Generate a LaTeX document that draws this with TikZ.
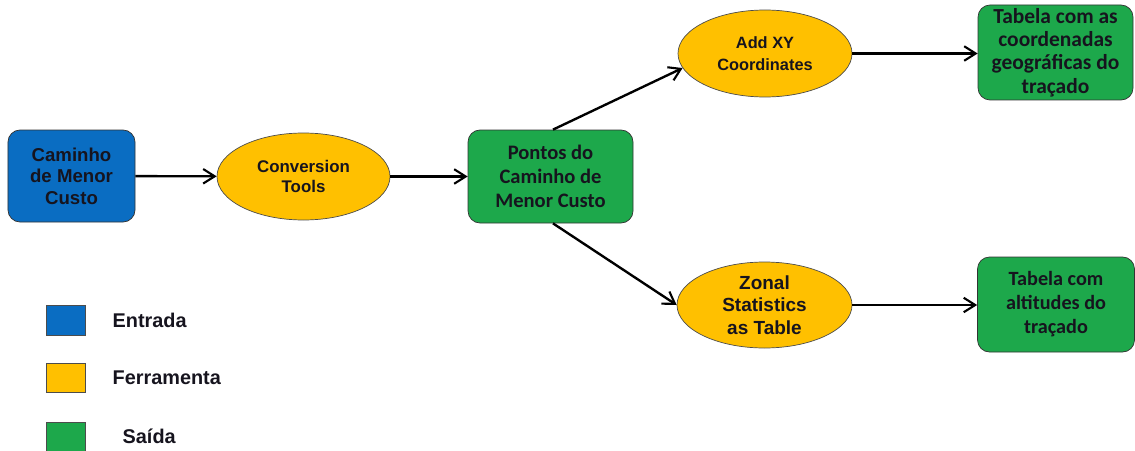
\documentclass[tikz,border=0pt]{standalone}
\usepackage{fontspec}
\setmainfont{Liberation Sans}
\newfontfamily\calib{Carlito}
\usetikzlibrary{arrows.meta,shapes.geometric}
\definecolor{azul}{HTML}{0A6DC2}
\definecolor{amarelo}{HTML}{FFC000}
\definecolor{verde}{HTML}{1DA84B}
\definecolor{texto}{HTML}{16141E}
\tikzset{
  caixa/.style={draw=black!80, rounded corners=0.24cm, align=center, text=texto,
    inner sep=0pt, font=\bfseries\fontsize{10.6}{12.3}\selectfont},
  elipse/.style={ellipse, draw=black!70, fill=amarelo, align=center, text=texto,
    inner sep=0pt, font=\bfseries\fontsize{9.6}{11.3}\selectfont},
  seta/.style={line width=1.35pt, -{Straight Barb[length=2.3mm,width=2.9mm,line width=1.2pt]}},
}
\begin{document}
\begin{tikzpicture}
	\useasboundingbox (0,0) rectangle (22.7,9);

	% Caixas e ferramentas
	\node[caixa, fill=azul, minimum width=2.54cm, minimum height=1.84cm] (caminho) at (1.43,5.48) {Caminho\\de Menor\\Custo};
	\node[elipse, minimum width=3.46cm, minimum height=1.74cm] (conversion) at (6.07,5.47) {Conversion\\Tools};
	\node[caixa, fill=verde, minimum width=3.3cm, minimum height=1.86cm,
	      font=\calib\bfseries\fontsize{11.7}{13.6}\selectfont] (pontos) at (11.01,5.47) {Pontos do\\Caminho de\\Menor Custo};
	\node[elipse, minimum width=3.48cm, minimum height=1.74cm,
	      font=\bfseries\fontsize{9.3}{12.5}\selectfont] (addxy) at (15.3,7.93) {Add XY\\Coordinates};
	\node[elipse, minimum width=3.5cm, minimum height=1.72cm,
	      font=\bfseries\fontsize{10.8}{12.8}\selectfont] (zonal) at (15.29,2.9) {Zonal\\Statistics\\as Table};
	\node[caixa, fill=verde, minimum width=3.1cm, minimum height=1.9cm,
	      font=\calib\bfseries\fontsize{12.2}{13.2}\selectfont] (tabcoord) at (21.11,7.95) {Tabela com as\\coordenadas\\geográficas do\\traçado};
	\node[caixa, fill=verde, minimum width=3.14cm, minimum height=1.9cm,
	      font=\calib\bfseries\fontsize{11.5}{13.6}\selectfont] (tabalt) at (21.12,2.91) {Tabela com\\altitudes do\\traçado};

	% Setas
	\draw[seta] (caminho) -- (conversion);
	\draw[seta] (conversion) -- (pontos);
	\draw[seta] (pontos.87) -- (addxy.190);
	\draw[seta] (pontos.-87) -- (zonal.west);
	\draw[seta] (addxy) -- (addxy -| tabcoord.west);
	\draw[seta] (zonal) -- (zonal -| tabalt.west);

	% Legenda
	\foreach \y/\h/\cor/\nome in {2.6/0.6/azul/entrada, 1.45/0.58/amarelo/ferramenta, 0.27/0.58/verde/saida} {
	    \node[draw=black!70, fill=\cor, minimum width=0.78cm, minimum height=\h cm, inner sep=0pt] (leg\nome) at (1.31,\y) {};
	}
	\foreach \nome/\rotulo/\dx in {entrada/Entrada/0.54, ferramenta/Ferramenta/0.54, saida/Saída/0.74} {
	    \node[anchor=west, text=texto, inner sep=0pt, font=\bfseries\fontsize{11.3}{13.6}\selectfont]
	        (txt\nome) at ([xshift=\dx cm]leg\nome.east) {\rotulo};
	}
\end{tikzpicture}
\end{document}
